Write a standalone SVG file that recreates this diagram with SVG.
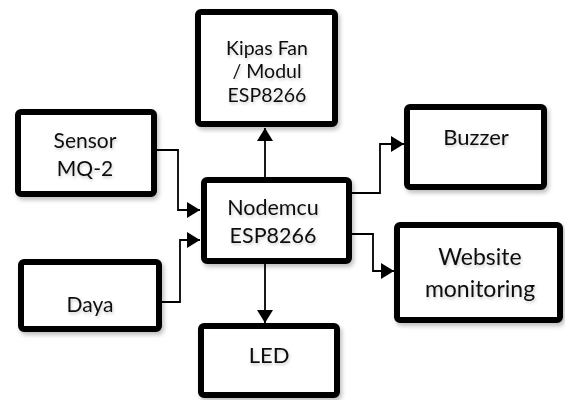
<svg xmlns="http://www.w3.org/2000/svg" width="565" height="400" viewBox="0 0 565 400">
<style>
.box{fill:#fff;stroke:#000;stroke-width:6;filter:url(#sh)}
.t{font-family:Lato,"Open Sans",sans-serif;fill:#111;text-anchor:middle;filter:url(#ts)}
.c{fill:none;stroke:#000;stroke-width:1.8}
</style>
<defs>
<filter id="sh" x="-10%" y="-10%" width="125%" height="130%">
<feDropShadow dx="2" dy="3" stdDeviation="2" flood-color="#000" flood-opacity="0.25"/>
</filter>
<filter id="ts" x="-10%" y="-20%" width="125%" height="150%">
<feDropShadow dx="1" dy="2" stdDeviation="1.5" flood-color="#000" flood-opacity="0.2"/>
</filter>
<marker id="ah" markerUnits="userSpaceOnUse" markerWidth="14" markerHeight="16" refX="13" refY="8" orient="auto">
<path d="M0,0 L13,8 L0,16 Z" fill="#000"/>
</marker>
</defs>
<rect width="565" height="400" fill="#fff"/>
<g id="connectors">
<path class="c" d="M265,177 V128" marker-end="url(#ah)"/>
<path class="c" d="M157,150 H178 V210 H200" marker-end="url(#ah)"/>
<path class="c" d="M162,302 H180 V240 H200" marker-end="url(#ah)"/>
<path class="c" d="M352,193 H380 V144 H404" marker-end="url(#ah)"/>
<path class="c" d="M352,234 H373 V271 H394" marker-end="url(#ah)"/>
<path class="c" d="M265,264 V323" marker-end="url(#ah)"/>
</g>
<g id="kipas">
<rect class="box" x="198" y="12" width="137" height="112" rx="3"/>
<text class="t" font-size="19.5"><tspan x="267" y="55">Kipas Fan</tspan><tspan x="267" y="78">/ Modul</tspan><tspan x="267" y="102">ESP8266</tspan></text>
</g>
<g id="sensor">
<rect class="box" x="18" y="112" width="136" height="82" rx="3"/>
<text class="t" font-size="21"><tspan x="85" y="148">Sensor</tspan><tspan x="85" y="176">MQ-2</tspan></text>
</g>
<g id="daya">
<rect class="box" x="21" y="262" width="138" height="67" rx="3"/>
<text class="t" font-size="21" x="90" y="312">Daya</text>
</g>
<g id="nodemcu">
<rect class="box" x="204" y="180" width="145" height="81" rx="3"/>
<text class="t" font-size="21.5"><tspan x="273" y="215">Nodemcu</tspan><tspan x="273" y="243">ESP8266</tspan></text>
</g>
<g id="buzzer">
<rect class="box" x="407" y="107" width="137" height="80" rx="3"/>
<text class="t" font-size="22" x="476" y="145">Buzzer</text>
</g>
<g id="website">
<rect class="box" x="397" y="225" width="163" height="95" rx="3"/>
<text class="t" font-size="23"><tspan x="480" y="265">Website</tspan><tspan x="480" y="297">monitoring</tspan></text>
</g>
<g id="led">
<rect class="box" x="201" y="326" width="136" height="69" rx="3"/>
<text class="t" font-size="22" x="269" y="363">LED</text>
</g>
</svg>
